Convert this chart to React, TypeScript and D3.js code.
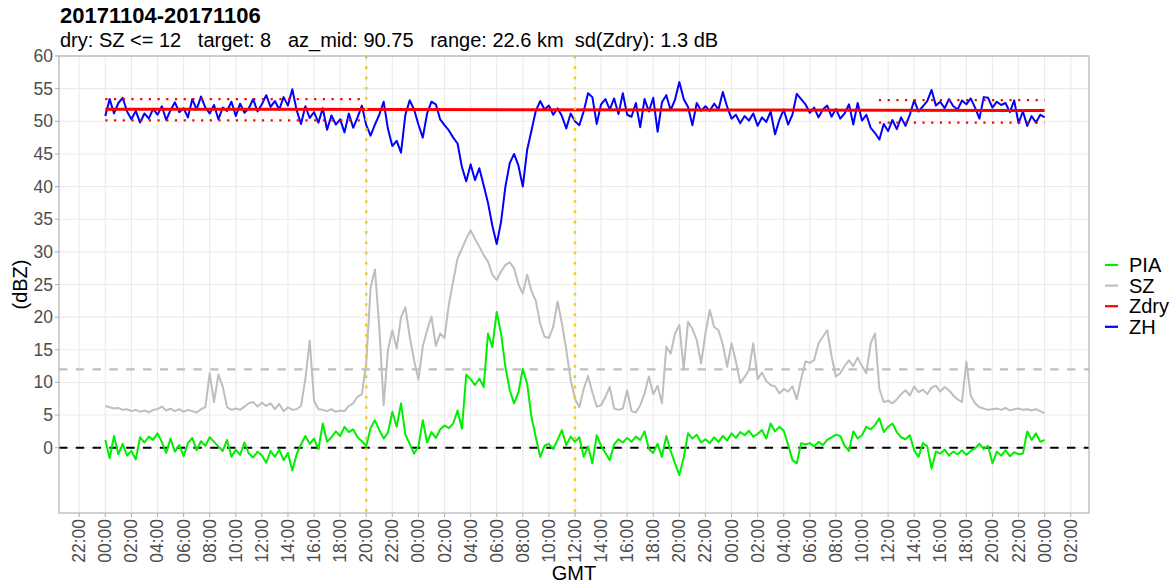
import React from "react";
import * as d3 from "d3";

// ---------------- data ----------------
const startUtc = Date.UTC(2017, 10, 4, 0, 0);
const stepMinutes = 20;

const zhValues = [
  50.8, 53.4, 51.2, 52.8, 53.6, 51.5,
  50.3, 51.6, 49.8, 51.2, 50.4, 51.9,
  51.0, 52.3, 50.2, 51.7, 52.9, 51.4,
  52.0, 50.6, 53.4, 51.8, 53.8, 52.1,
  51.2, 52.5, 50.3, 52.1, 51.6, 53.0,
  50.8, 52.7, 51.3, 52.0, 53.4, 51.5,
  52.6, 54.0, 52.2, 53.1, 51.8, 53.7,
  52.4, 54.9, 51.7, 49.6, 52.3, 50.5,
  51.4, 49.8, 52.0, 48.7, 50.9, 49.5,
  50.3, 48.3, 51.2, 49.0, 50.6, 52.4,
  49.4, 47.8, 49.5, 51.0, 53.0, 48.8,
  46.2, 47.0, 45.2, 51.0, 53.2, 51.8,
  49.5, 47.5, 51.2, 53.0, 52.6, 50.3,
  49.4, 48.6, 47.5, 46.6, 43.0, 40.8,
  43.4, 41.0, 42.8, 40.2, 37.5, 34.0,
  31.2, 34.6, 40.0, 43.6, 45.0, 43.2,
  40.0, 45.6, 48.6, 51.6, 53.1, 51.8,
  52.4, 51.0, 52.0, 50.8, 48.9, 51.2,
  50.0, 49.4, 51.5, 54.3, 53.7, 49.6,
  52.6, 53.4, 51.8, 53.5, 51.1, 54.3,
  51.0, 50.7, 52.8, 49.1, 53.4, 51.5,
  53.6, 48.4, 52.9, 54.0, 51.7, 53.3,
  56.0, 53.4, 52.2, 49.4, 52.8, 51.6,
  52.3, 51.6, 52.7, 51.8, 54.5, 52.2,
  50.4, 51.0, 49.7, 50.8, 50.1, 51.2,
  49.3, 50.6, 49.9, 51.5, 48.0, 50.2,
  51.8, 49.5, 51.0, 54.2, 53.4, 52.6,
  51.3, 52.1, 50.6, 51.8, 52.4, 50.7,
  51.9, 50.4, 51.2, 52.6, 49.5, 52.8,
  50.1, 51.0, 49.0, 48.2, 47.2, 49.6,
  48.5, 50.2, 48.8, 50.6, 49.3, 51.0,
  53.2, 51.5, 52.3, 53.1, 54.8, 52.4,
  53.0, 52.0, 53.4, 52.3, 51.8, 53.2,
  52.6, 53.5, 52.1, 50.4, 53.7, 53.6,
  52.1, 53.0, 52.5, 52.8, 51.4, 53.2,
  49.7, 51.5, 49.3, 50.8, 49.8, 51.0,
  50.6,
];

const szValues = [
  6.4, 6.2, 6.0, 6.1, 5.8, 5.9,
  5.6, 5.8, 5.5, 5.7, 5.4, 5.8,
  5.9, 6.3, 5.7, 6.0, 5.6, 5.9,
  5.5, 5.8, 5.6, 5.4, 5.9, 6.2,
  11.4, 7.0, 11.2, 9.4, 6.2, 5.8,
  6.0, 5.8, 6.3, 6.8, 7.0, 6.3,
  6.9, 6.4, 6.8, 5.9, 6.7, 5.6,
  6.2, 5.8, 5.9, 6.4, 10.5, 16.4,
  7.2, 5.9, 5.8, 5.6, 5.9, 5.5,
  5.7, 5.6, 6.4, 6.8, 7.8, 8.2,
  13.0, 24.5, 27.3, 18.5, 6.5, 15.0,
  18.0, 15.2, 20.0, 21.5, 17.0, 13.4,
  10.4, 15.5, 18.0, 20.1, 15.6, 17.5,
  16.8, 22.0, 25.5, 29.0, 30.5, 32.0,
  33.3, 32.0, 30.8, 29.5, 28.5, 26.5,
  25.7, 27.0, 28.0, 28.4, 27.5, 25.0,
  23.6, 26.5, 24.0, 22.5, 19.0, 17.0,
  16.8, 18.5, 22.4, 19.0, 15.0, 10.4,
  7.5, 6.2, 9.0, 11.0, 8.5, 6.3,
  6.5, 7.8, 9.3, 6.0, 5.8, 6.0,
  8.8, 5.6, 5.4, 6.5, 8.3, 10.9,
  8.2, 9.5, 6.8, 15.5, 14.4, 17.5,
  18.8, 12.0, 19.3, 18.2, 16.5, 12.9,
  17.5, 21.1, 18.5, 18.0, 15.8, 12.4,
  16.0, 13.2, 9.9, 10.8, 11.9, 16.0,
  10.5, 11.5, 10.2, 9.6, 9.4, 8.3,
  9.0, 8.6, 9.4, 7.4, 10.5, 13.2,
  13.0, 13.4, 16.0, 17.0, 18.0, 14.0,
  10.9, 11.4, 12.5, 13.4, 12.5, 13.8,
  12.5, 11.4, 16.0, 17.5, 9.0, 7.0,
  7.2, 6.8, 7.4, 8.2, 8.8, 8.0,
  9.4, 8.5, 8.9, 8.2, 9.2, 9.5,
  8.6, 9.3, 8.8, 8.0, 7.4, 7.0,
  13.2, 8.0, 6.8, 6.2, 6.0, 5.8,
  5.9, 6.0, 5.8, 6.1, 5.7, 5.9,
  6.0, 5.8, 5.9, 5.7, 5.9, 5.6,
  5.3,
];

const piaValues = [
  1.2, -1.6, 1.8, -1.0, 0.6, -1.2,
  -0.5, -1.8, 1.6, 0.8, 1.7, 1.2,
  2.2, 0.9, -0.8, 1.4, -0.6, 0.4,
  -1.3, 0.7, 1.5, -0.4, 1.0, 0.3,
  1.6, 0.9, 0.2, -0.5, 1.2, -1.4,
  -0.3, -1.1, 0.8, -0.9, -1.5, -0.6,
  -1.2, -2.3, -0.5, -1.4, -0.3, -1.9,
  -0.8, -3.5, -1.0, 0.5, 1.8, 0.6,
  1.4, -0.2, 3.7, 0.9, 1.6, 2.5,
  1.8, 3.2, 2.4, 2.8, 1.6, 1.0,
  0.3, 3.0, 4.2, 2.7, 1.4, 2.3,
  5.5, 3.2, 6.8, 2.0, 0.6, -0.9,
  0.2, 4.2, 0.8, 2.4, 1.5, 2.8,
  3.4, 3.0, 3.7, 5.7, 2.9, 11.2,
  10.5, 9.6, 10.6, 9.3, 17.5, 15.4,
  20.8, 17.5, 12.4, 8.8, 6.8, 8.5,
  12.1, 9.8, 4.7, 1.6, -1.4, 0.3,
  0.6, -0.2, 1.2, 2.7, 0.4, 1.7,
  0.9, 1.6, -1.4, 0.2, -2.4, 1.9,
  0.3, -0.8, -1.9, 0.5, 1.3, 0.8,
  1.5, 0.9, 1.7, 1.2, 2.5, -0.2,
  -0.8, 0.6, -1.4, 1.8, -0.5, -2.4,
  -4.2, -1.5, 2.2, 1.4, 2.0, 0.8,
  1.3, 0.7, 1.6, 0.9, 1.8, 1.1,
  2.2, 1.5, 2.4, 1.9, 2.6, 1.7,
  2.1, 2.7, 1.4, 3.7, 2.5, 3.2,
  2.6, 0.5, -1.9, -2.4, 0.7, 0.5,
  0.7, 0.2, 0.9, 0.4, 1.2, 1.6,
  2.0, 1.8, 0.3, -0.5, 2.5, 1.4,
  1.9, 3.2, 2.8, 3.5, 4.5, 2.4,
  3.2, 3.7, 2.4, 1.6, 1.3, 1.9,
  -0.4, -1.4, 0.7, 0.2, -3.2, -0.6,
  -0.9, -0.3, -1.2, -0.6, -1.0, -0.4,
  -1.1, -0.5, -0.1, 0.6, -0.2, 0.3,
  -2.4, -0.6, -1.2, -0.4, -1.3, -0.7,
  -1.0, -0.9, 2.5, 1.2, 2.2, 0.9,
  1.2,
];

const zdryHours = [0, 24, 48, 72];
const zdryValues = [51.85, 51.8, 51.72, 51.65];

const dryStartHours = [0, 59.3];
const dryEndHours = [19.6, 72];
const dryUpper = [53.4, 53.25];
const dryLower = [50.15, 49.8];

const eventHours = [20, 36];
const szThreshold = 12;
const yTicks = [0, 5, 10, 15, 20, 25, 30, 35, 40, 45, 50, 55, 60];

const legendNames = ["PIA", "SZ", "Zdry", "ZH"];
const legendColors = ["#00EE00", "#BEBEBE", "#FF0000", "#0000FF"];

const titleText = "20171104-20171106";
const subtitleText =
  "dry: SZ <= 12   target: 8   az_mid: 90.75   range: 22.6 km  sd(Zdry): 1.3 dB";

// ---------------- layout ----------------
const W = 1175;
const H = 585;
const PL = 59;
const PR = 1089;
const PT = 56;
const PB = 513;
const FONT = "'Liberation Sans', Arial, Helvetica, sans-serif";
const HOUR = 3600 * 1000;

const hourToDate = (h: number) => new Date(startUtc + h * HOUR);

export default function App() {
  const x = d3
    .scaleUtc()
    .domain([hourToDate(-3.55), hourToDate(75.4)])
    .range([PL, PR]);
  const y = d3.scaleLinear().domain([-10, 60]).range([PB, PT]);

  const xTicks = x.ticks(d3.utcHour.every(2) as any);
  const fmt = d3.utcFormat("%H:%M");

  const mkSeries = (vals: number[]) =>
    vals.map((v, i) => ({ t: hourToDate((i * stepMinutes) / 60), v }));

  const line = d3
    .line<{ t: Date; v: number }>()
    .x((d) => x(d.t))
    .y((d) => y(d.v));

  const sz = mkSeries(szValues);
  const pia = mkSeries(piaValues);
  const zh = mkSeries(zhValues);
  const zdry = zdryHours.map((h, i) => ({ t: hourToDate(h), v: zdryValues[i] }));

  return (
    <svg
      width={W}
      height={H}
      style={{ position: "absolute", left: 0, top: 0, background: "#fff", display: "block" }}
      fontFamily={FONT}
    >
      <defs>
        <clipPath id="panel">
          <rect x={PL} y={PT} width={PR - PL} height={PB - PT} />
        </clipPath>
      </defs>
      <rect x={0} y={0} width={W} height={H} fill="#fff" />

      {/* grid */}
      {xTicks.map((t, i) => (
        <line key={"gx" + i} x1={x(t)} x2={x(t)} y1={PT} y2={PB} stroke="#ebebeb" strokeWidth={1.1} />
      ))}
      {yTicks.map((v) => (
        <line key={"gy" + v} x1={PL} x2={PR} y1={y(v)} y2={y(v)} stroke="#ebebeb" strokeWidth={1.1} />
      ))}

      <g clipPath="url(#panel)">
        {/* reference lines */}
        <line
          x1={PL}
          x2={PR}
          y1={y(szThreshold)}
          y2={y(szThreshold)}
          stroke="#BEBEBE"
          strokeWidth={2.1}
          strokeDasharray="8.4,8.4"
        />
        <line
          x1={PL}
          x2={PR}
          y1={y(0)}
          y2={y(0)}
          stroke="#000"
          strokeWidth={2.1}
          strokeDasharray="8.4,8.4"
        />
        {/* series */}
        <path d={line(sz) || ""} fill="none" stroke="#BEBEBE" strokeWidth={2} strokeLinejoin="round" />
        <path d={line(pia) || ""} fill="none" stroke="#00EE00" strokeWidth={2} strokeLinejoin="round" />
        <path d={line(zh) || ""} fill="none" stroke="#0000FF" strokeWidth={2} strokeLinejoin="round" />
        <path d={line(zdry) || ""} fill="none" stroke="#FF0000" strokeWidth={3} />
        {/* dry period bounds */}
        {dryStartHours.map((s, i) => (
          <g key={"dry" + i}>
            <line
              x1={x(hourToDate(s))}
              x2={x(hourToDate(dryEndHours[i]))}
              y1={y(dryUpper[i])}
              y2={y(dryUpper[i])}
              stroke="#FF0000"
              strokeWidth={2.2}
              strokeDasharray="2.2,6.5"
            />
            <line
              x1={x(hourToDate(s))}
              x2={x(hourToDate(dryEndHours[i]))}
              y1={y(dryLower[i])}
              y2={y(dryLower[i])}
              stroke="#FF0000"
              strokeWidth={2.2}
              strokeDasharray="2.2,6.5"
            />
          </g>
        ))}
        {/* event lines */}
        {eventHours.map((h) => (
          <line
            key={"ev" + h}
            x1={x(hourToDate(h))}
            x2={x(hourToDate(h))}
            y1={PT}
            y2={PB}
            stroke="#FFC800"
            strokeWidth={2.5}
            strokeDasharray="2.6,7.7"
          />
        ))}
      </g>

      {/* panel border */}
      <rect x={PL} y={PT} width={PR - PL} height={PB - PT} fill="none" stroke="#b3b3b3" strokeWidth={1.2} />

      {/* y axis */}
      {yTicks.map((v) => (
        <g key={"yt" + v}>
          <line x1={PL - 4} x2={PL} y1={y(v)} y2={y(v)} stroke="#b3b3b3" strokeWidth={1.1} />
          <text
            x={PL - 6}
            y={y(v)}
            textAnchor="end"
            dominantBaseline="central"
            fontSize={17.5}
            fill="#4d4d4d"
          >
            {v}
          </text>
        </g>
      ))}

      {/* x axis */}
      {xTicks.map((t, i) => (
        <g key={"xt" + i}>
          <line x1={x(t)} x2={x(t)} y1={PB} y2={PB + 4} stroke="#b3b3b3" strokeWidth={1.1} />
          <text
            transform={`translate(${x(t)},${PB + 6}) rotate(-90)`}
            textAnchor="end"
            dominantBaseline="central"
            fontSize={17.5}
            fill="#4d4d4d"
          >
            {fmt(t)}
          </text>
        </g>
      ))}

      {/* axis titles */}
      <text x={(PL + PR) / 2} y={580} textAnchor="middle" fontSize={20} fill="#000">
        GMT
      </text>
      <text
        transform={`translate(27,${(PT + PB) / 2}) rotate(-90)`}
        textAnchor="middle"
        fontSize={20}
        fill="#000"
      >
        (dBZ)
      </text>

      {/* titles */}
      <text x={60} y={23} fontSize={22} fontWeight="bold" fill="#000">
        {titleText}
      </text>
      <text x={60} y={47} fontSize={20} fill="#000" style={{ whiteSpace: "pre" }}>
        {subtitleText}
      </text>

      {/* legend */}
      {legendNames.map((n, i) => {
        const cy = 265 + i * 20.6;
        return (
          <g key={"lg" + n}>
            <line x1={1105} x2={1118} y1={cy} y2={cy} stroke={legendColors[i]} strokeWidth={2.2} />
            <text x={1129} y={cy} dominantBaseline="central" fontSize={20} fill="#000">
              {n}
            </text>
          </g>
        );
      })}
    </svg>
  );
}
